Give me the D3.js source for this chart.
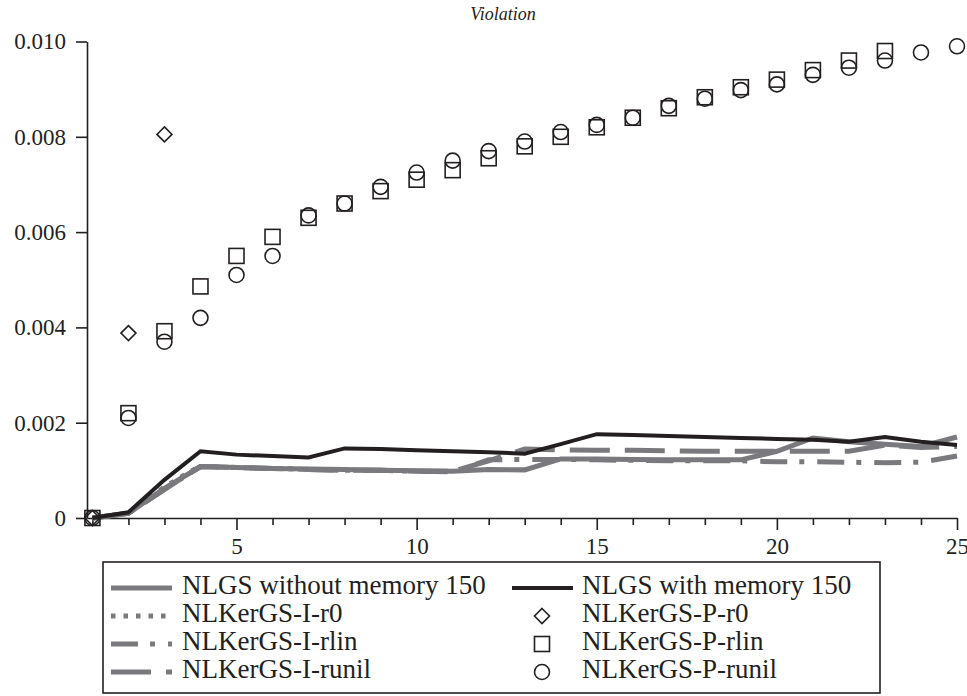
<!DOCTYPE html>
<html>
<head>
<meta charset="utf-8">
<script src="https://cdn.jsdelivr.net/npm/d3@7"></script>
<style>
  html, body { margin: 0; padding: 0; background: #fff; }
  svg { display: block; }
  svg text { font-family: "Liberation Serif", "Times New Roman", Times, serif !important; fill: #231f20; }
</style>
</head>
<body>
<svg id="chart" width="967" height="696"></svg>
<script>
// ---- data ----
const iterations = d3.range(1, 26);
const nlgsWithout = [0, 0.0001, 0.00062, 0.00108, 0.00106, 0.00104, 0.00103, 0.00102, 0.001, 0.00099, 0.00098, 0.00102, 0.00101, 0.00124, 0.00124, 0.00123, 0.00122, 0.00122, 0.00122, 0.0014, 0.00168, 0.0016, 0.00155, 0.0015, 0.0017];
const nlgsWith = [0, 0.00012, 0.0008, 0.0014, 0.00133, 0.0013, 0.00127, 0.00146, 0.00145, 0.00142, 0.0014, 0.00138, 0.00135, 0.00155, 0.00176, 0.00174, 0.00172, 0.0017, 0.00168, 0.00166, 0.00164, 0.0016, 0.0017, 0.0016, 0.00153];
const kerIr0 = [0, 0.0001, 0.00065, 0.0011];
const kerIrlin = [0, 0.0001, 0.0006, 0.00108, 0.00106, 0.00104, 0.00102, 0.001, 0.001, 0.00098, 0.00097, 0.00122, 0.00123, 0.00123, 0.00122, 0.00121, 0.0012, 0.0012, 0.0012, 0.00118, 0.00118, 0.00117, 0.00116, 0.00117, 0.0013];
const kerIrunil = [0, 0.0001, 0.0006, 0.00108, 0.00106, 0.00104, 0.00102, 0.001, 0.001, 0.00098, 0.00098, 0.0012, 0.00145, 0.00143, 0.00142, 0.00142, 0.00141, 0.0014, 0.0014, 0.0014, 0.0014, 0.0014, 0.00153, 0.00148, 0.0015];
const kerPr0 = [0, 0.00388, 0.00805];
const kerPrlin = [0, 0.0022, 0.00392, 0.00486, 0.0055, 0.0059, 0.0063, 0.0066, 0.00686, 0.0071, 0.0073, 0.00755, 0.0078, 0.008, 0.0082, 0.0084, 0.0086, 0.00883, 0.00904, 0.0092, 0.0094, 0.0096, 0.0098];
const kerPrunil = [0, 0.0021, 0.0037, 0.0042, 0.0051, 0.0055, 0.00635, 0.0066, 0.00695, 0.00725, 0.0075, 0.0077, 0.0079, 0.0081, 0.00825, 0.0084, 0.00865, 0.0088, 0.00898, 0.0091, 0.0093, 0.00945, 0.0096, 0.00977, 0.0099];
const yTicks = [0, 0.002, 0.004, 0.006, 0.008, 0.010];
const xLabelTicks = [5, 10, 15, 20, 25];
const title = "Violation";
const legendLeft = ["NLGS without memory 150", "NLKerGS-I-r0", "NLKerGS-I-rlin", "NLKerGS-I-runil"];
const legendRight = ["NLGS with memory 150", "NLKerGS-P-r0", "NLKerGS-P-rlin", "NLKerGS-P-runil"];

// ---- styles ----
const GRAY = "#7a7a7e", BLACK = "#231f20";
const FONT = "'Liberation Serif', 'Times New Roman', Times, serif";
const lineSeries = [
  { name: legendLeft[1], vals: kerIr0, color: GRAY, w: 5, dash: "4.5,8" },
  { name: legendLeft[2], vals: kerIrlin, color: GRAY, w: 5, dash: "27,12,5,13" },
  { name: legendLeft[3], vals: kerIrunil, color: GRAY, w: 5, dash: "40,15" },
  { name: legendLeft[0], vals: nlgsWithout, color: GRAY, w: 5, dash: null },
  { name: legendRight[0], vals: nlgsWith, color: BLACK, w: 4, dash: null }
];
const markerSeries = [
  { name: legendRight[1], vals: kerPr0, shape: "diamond" },
  { name: legendRight[2], vals: kerPrlin, shape: "square" },
  { name: legendRight[3], vals: kerPrunil, shape: "circle" }
];

const svg = d3.select("#chart");
const x = d3.scaleLinear().domain([0.85, 25]).range([87, 957]);
const y = d3.scaleLinear().domain([0, 0.010]).range([518, 41.5]);

// title
svg.append("text").attr("x", 503).attr("y", 20).attr("text-anchor", "middle")
  .attr("font-family", FONT).style("font-style", "italic").style("font-size", "18px").text(title);

// axes
const xAxis = d3.axisBottom(x).tickValues(iterations).tickSize(7).tickSizeOuter(0).tickPadding(13)
  .tickFormat(d => xLabelTicks.includes(d) ? d : "");
const gx = svg.append("g").attr("transform", `translate(0,${y(0)})`).call(xAxis);
gx.selectAll(".tick line").attr("y2", d => xLabelTicks.includes(d) ? 12 : 7);

const yAxis = d3.axisLeft(y).tickValues(yTicks).tickSize(11).tickSizeOuter(0).tickPadding(10)
  .tickFormat(d => d === 0 ? "0" : d3.format(".3f")(d));
const gy = svg.append("g").attr("transform", `translate(${x(0.85)},0)`).call(yAxis);

[gx, gy].forEach(g => {
  g.attr("font-family", FONT).attr("font-size", 23);
  g.selectAll("path, line").attr("stroke", BLACK).attr("stroke-width", 1.6);
  g.selectAll("text").attr("fill", BLACK).attr("font-family", FONT).style("font-size", "23px");
});

// lines
const line = d3.line().x((d, i) => x(iterations[i])).y(d => y(d));
lineSeries.forEach(s => {
  svg.append("path").datum(s.vals).attr("d", line)
    .attr("fill", "none").attr("stroke", s.color).attr("stroke-width", s.w)
    .attr("stroke-linejoin", "miter").attr("stroke-dasharray", s.dash);
});

// markers
function drawMarker(g, shape, cx, cy) {
  let el;
  if (shape === "square") el = g.append("rect").attr("x", cx - 7.5).attr("y", cy - 7.5).attr("width", 15).attr("height", 15);
  else if (shape === "circle") el = g.append("circle").attr("cx", cx).attr("cy", cy).attr("r", 7.5);
  else el = g.append("path").attr("d", `M${cx},${cy - 7.5}L${cx + 7.5},${cy}L${cx},${cy + 7.5}L${cx - 7.5},${cy}Z`);
  el.attr("fill", "none").attr("stroke", BLACK).attr("stroke-width", 1.6);
}
markerSeries.forEach(s => {
  const g = svg.append("g");
  s.vals.forEach((v, i) => drawMarker(g, s.shape, x(iterations[i]), y(v)));
});

// legend
const lg = svg.append("g");
lg.append("rect").attr("x", 103).attr("y", 562).attr("width", 777).attr("height", 131)
  .attr("fill", "#fff").attr("stroke", BLACK).attr("stroke-width", 1.6);
const rowBase = [594, 622, 650, 678];
const leftStyles = [lineSeries[3], lineSeries[0], lineSeries[1], lineSeries[2]];
legendLeft.forEach((t, i) => {
  const s = leftStyles[i];
  lg.append("line").attr("x1", 111).attr("x2", 172).attr("y1", rowBase[i] - 6).attr("y2", rowBase[i] - 6)
    .attr("stroke", s.color).attr("stroke-width", s.w).attr("stroke-dasharray", s.dash);
  lg.append("text").attr("x", 182).attr("y", rowBase[i]).attr("font-family", FONT).style("font-size", "27px").text(t);
});
legendRight.forEach((t, i) => {
  if (i === 0) {
    lg.append("line").attr("x1", 512).attr("x2", 573).attr("y1", rowBase[i] - 6).attr("y2", rowBase[i] - 6)
      .attr("stroke", BLACK).attr("stroke-width", 4);
  } else {
    drawMarker(lg, markerSeries[i - 1].shape, 542, rowBase[i] - 6);
  }
  lg.append("text").attr("x", 582).attr("y", rowBase[i]).attr("font-family", FONT).style("font-size", "27px").text(t);
});
</script>
</body>
</html>
